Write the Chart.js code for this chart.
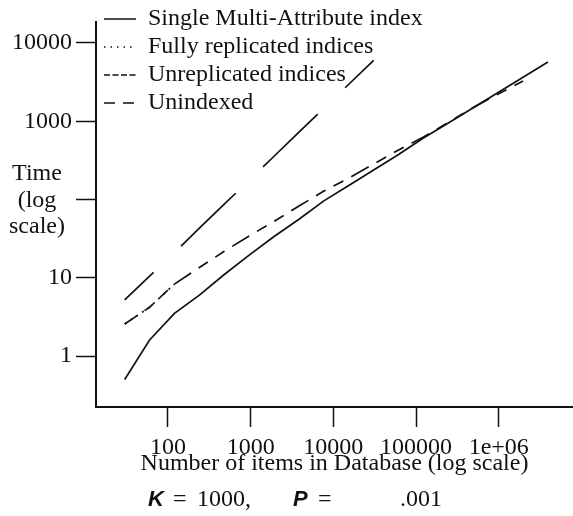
<!DOCTYPE html>
<html lang="en">
<head>
<meta charset="UTF-8">
<title>Time vs database size</title>
<script src="https://cdn.jsdelivr.net/npm/chart.js"></script>
<style>
  html, body { margin: 0; padding: 0; background: #fff; }
  #wrap { width: 573px; height: 516px; }
</style>
</head>
<body>
<div id="wrap"><canvas id="timeChart" width="573" height="516"></canvas></div>
<script>
// number of items in the database (x) for each plotted point
const nItems = [30, 60, 120, 240, 480, 960, 1920, 3840, 7680, 15360, 30720,
                61440, 122880, 245760, 491520, 983040, 1966080, 3932160];

// time values
const singleMulti = [0.50, 1.6, 3.5, 6.0, 11.0, 19.5, 33.7, 56, 96, 151, 238,
                     376, 611, 950, 1490, 2330, 3650, 5720];
const fullyReplicated = [2.56, 4.2, 8.3];
const unreplicated = [2.56, 4.2, 8.3, 13.5, 21.8, 34.2, 52.4, 82.6, 128, 188, 284,
                      429, 629, 964, 1500, 2230, 3270];
const unindexed = [5.2, 10.5, 21, 43, 87, 176, 357, 724, 1466, 2970, 6000];

const seriesNames = ['Single Multi-Attribute index', 'Fully replicated indices',
                     'Unreplicated indices', 'Unindexed'];

const xTicks = [100, 1000, 10000, 100000, 1000000];
const xTickLabels = ['100', '1000', '10000', '100000', '1e+06'];
const yTicks = [1, 10, 100, 1000, 10000];
const yTickLabels = ['1', '10', '', '1000', '10000'];

// legend samples use shorter dashes than the plotted curves
const legendDash = [[], [1.5, 5], [6, 2.5], [11, 8]];

function pts(ys) {
    return ys.map((y, i) => ({ x: nItems[i], y: y }));
}

const serif = 'Liberation Serif, Times New Roman, serif';
const ink = '#111';

const extraText = {
    id: 'extraText',
    afterLayout(chart) {
        // lift the legend so it sits at the top-left like the original
        const lg = chart.legend;
        const w = lg.width, h = lg.height;
        lg.left = chart.chartArea.left + 4;
        lg.right = lg.left + w;
        lg.top = 3;
        lg.bottom = lg.top + h;
    },
    afterDraw(chart) {
        const ctx = chart.ctx;
        const y100 = chart.scales.y.getPixelForValue(100);
        ctx.save();
        ctx.fillStyle = ink;
        ctx.textBaseline = 'middle';
        ctx.textAlign = 'center';
        ctx.font = '24px ' + serif;
        ctx.fillText('Time', 37, y100 - 26);
        ctx.fillText('(log', 37, y100 + 1);
        ctx.fillText('scale)', 37, y100 + 27);

        // "K = 1000,  P = .001" line under the axis title
        ctx.textAlign = 'left';
        const parts = [
            ['K', 148, true], ['=', 173, false], ['1000,', 197, false],
            ['P', 293, true], ['=', 318, false], ['.001', 400, false]
        ];
        parts.forEach(p => {
            ctx.font = p[2] ? 'italic bold 22px Liberation Sans, Arial, sans-serif' : '24px ' + serif;
            ctx.fillText(p[0], p[1], 500);
        });
        ctx.restore();
    }
};

const ctx = document.getElementById('timeChart').getContext('2d');
const chart = new Chart(ctx, {
    type: 'line',
    data: {
        datasets: [
            {
                label: seriesNames[0],
                data: pts(singleMulti),
                borderColor: ink,
                borderWidth: 1.7
            },
            {
                label: seriesNames[1],
                data: pts(fullyReplicated),
                borderColor: ink,
                borderWidth: 1.7,
                borderDash: [2, 5]
            },
            {
                label: seriesNames[2],
                data: pts(unreplicated),
                borderColor: ink,
                borderWidth: 1.7,
                borderDash: [20, 9, 11, 9, 11, 9],
                borderDashOffset: 5
            },
            {
                label: seriesNames[3],
                data: pts(unindexed),
                borderColor: ink,
                borderWidth: 1.7,
                borderDash: [76, 38],
                borderDashOffset: 36
            }
        ]
    },
    options: {
        responsive: false,
        devicePixelRatio: 1,
        animation: false,
        parsing: true,
        elements: {
            point: { radius: 0 },
            line: { tension: 0, fill: false, backgroundColor: ink }
        },
        layout: { padding: { top: 22, right: 0, bottom: 0, left: 0 } },
        scales: {
            x: {
                type: 'logarithmic',
                min: 13.5,
                max: 7.9e6,
                afterFit: s => { s.height = 109; },
                afterBuildTicks: s => { s.ticks = xTicks.map(v => ({ value: v })); },
                border: { display: true, color: ink, width: 2 },
                grid: { drawOnChartArea: false, drawTicks: true, tickLength: 20, tickWidth: 1.5, tickColor: ink },
                ticks: {
                    autoSkip: false,
                    maxRotation: 0,
                    padding: 6,
                    color: ink,
                    font: { family: serif, size: 24 },
                    callback: (v, i) => xTickLabels[i]
                },
                title: {
                    display: true,
                    text: 'Number of items in Database (log scale)',
                    color: ink,
                    font: { family: serif, size: 24 },
                    padding: { top: 0, bottom: 38 }
                }
            },
            y: {
                type: 'logarithmic',
                min: 0.223,
                max: 18550,
                afterFit: s => { s.width = 96; },
                afterBuildTicks: s => { s.ticks = yTicks.map(v => ({ value: v })); },
                border: { display: true, color: ink, width: 2 },
                grid: { drawOnChartArea: false, drawTicks: true, tickLength: 20, tickWidth: 1.5, tickColor: ink },
                ticks: {
                    autoSkip: false,
                    padding: 4,
                    color: ink,
                    font: { family: serif, size: 24 },
                    callback: (v, i) => yTickLabels[i]
                }
            }
        },
        plugins: {
            legend: {
                position: 'chartArea',
                align: 'start',
                labels: {
                    usePointStyle: true,
                    pointStyle: 'line',
                    pointStyleWidth: 32,
                    padding: 4,
                    color: ink,
                    font: { family: serif, size: 24 },
                    generateLabels(chart) {
                        const items = Chart.defaults.plugins.legend.labels.generateLabels(chart);
                        items.forEach((it, i) => {
                            it.lineDash = legendDash[i];
                            it.lineDashOffset = 0;
                            it.lineWidth = 1.5;
                            it.strokeStyle = ink;
                        });
                        return items;
                    }
                }
            },
            tooltip: { enabled: false }
        }
    },
    plugins: [extraText]
});
</script>
</body>
</html>
